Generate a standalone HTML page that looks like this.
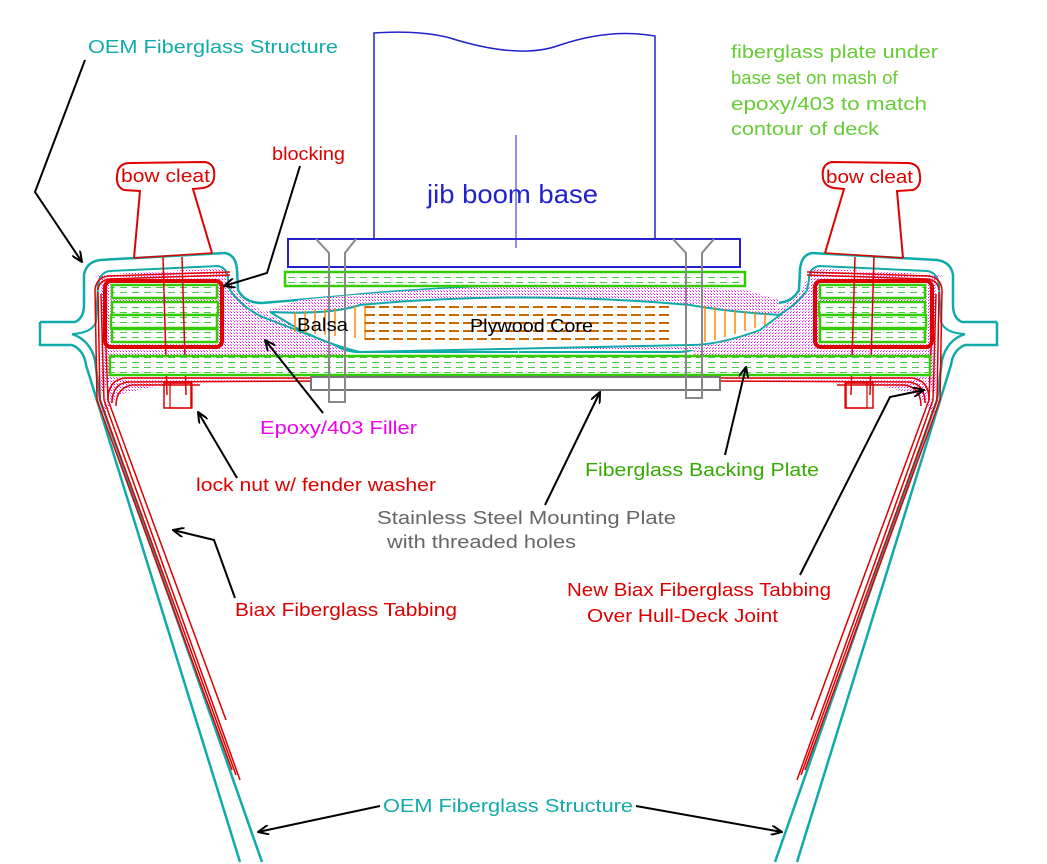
<!DOCTYPE html>
<html><head><meta charset="utf-8"><style>
html,body{margin:0;padding:0;background:#fff;}
svg{display:block}
text{font-family:"Liberation Sans",sans-serif;}
</style></head><body>
<svg width="1047" height="864" viewBox="0 0 1047 864" xmlns="http://www.w3.org/2000/svg">
<defs>
<pattern id="pk" width="3" height="3" patternUnits="userSpaceOnUse"><rect width="3" height="3" fill="#fff"/><rect x="0" y="0" width="1" height="1" fill="#f0f"/><rect x="2" y="2" width="1" height="1" fill="#f6f"/></pattern>
<pattern id="gr" width="12" height="5" patternUnits="userSpaceOnUse"><rect width="12" height="5" fill="#fff"/><rect x="0" y="2" width="7" height="1" fill="#4c4"/></pattern>
<marker id="ah" markerWidth="12" markerHeight="10" refX="11" refY="5" orient="auto" markerUnits="userSpaceOnUse"><path d="M0,0 L11,5 L0,10" fill="none" stroke="#000" stroke-width="2"/></marker>
<g id="half">
  <path d="M95,275 L225,268 L235,290 L262,312 L340,345 L345,356 L112,356 L112,378 L100,395 L100,280 Z" fill="url(#pk)"/>
  <path d="M112,375 L330,378 L160,385 L118,395 L100,420 Z" fill="url(#pk)"/>
  <path d="M40,322 L75,322 Q84,318 84,305 L84,275 Q86,262 100,260 L225,253 Q236,255 237,270 L238,290 Q245,303 262,303 L345,296 Q420,288 518,286" fill="none" stroke="#1aa" stroke-width="2.5"/>
  <path d="M40,322 L40,345 L72,345 Q84,350 86,365 L240,862" fill="none" stroke="#1aa" stroke-width="2.5"/>
  <path d="M72,334 Q92,333 96,322 L98,285 Q100,272 110,271 L218,266 Q228,268 228,280 L230,290 Q240,305 260,316 L335,345 Q345,352 360,352 L518,352" fill="none" stroke="#1aa" stroke-width="2"/>
  <path d="M72,334 Q90,340 95,360 L100,400 L262,862" fill="none" stroke="#1aa" stroke-width="2.5"/>
  <g fill="none" stroke="#d00" stroke-width="1.5">
    <path d="M95,290 Q96,278 108,276 L230,272"/>
    <path d="M98,290 Q99,280 110,279 L230,275"/>
    <path d="M95,290 L97,400 L232,770"/>
    <path d="M98,292 L100,400 L236,775"/>
    <path d="M101,294 L104,400 L240,780"/>
    <path d="M104,296 L108,400 L226,720"/>
    <path d="M108,400 Q108,380 125,378 L330,378"/>
    <path d="M112,403 Q112,384 128,382 L330,381"/>
    <path d="M116,406 Q116,388 132,385 L200,385"/>
  </g>
  <rect x="105" y="281" width="117" height="66" rx="6" fill="none" stroke="#d00" stroke-width="4"/>
  <rect x="112" y="285" width="105" height="13" fill="url(#gr)" stroke="#3c0" stroke-width="2.5"/>
  <rect x="112" y="302" width="106" height="13" fill="url(#gr)" stroke="#3c0" stroke-width="2.5"/>
  <rect x="111" y="315" width="106" height="13" fill="url(#gr)" stroke="#3c0" stroke-width="2.5"/>
  <rect x="112" y="329" width="105" height="13" fill="url(#gr)" stroke="#3c0" stroke-width="2.5"/>
  <path d="M163,257 L167,395 M182,257 L186,395" stroke="#d00" stroke-width="1.5" fill="none"/>
  <rect x="164" y="383" width="27" height="25" fill="none" stroke="#d00" stroke-width="1.5"/>
  <rect x="170" y="383" width="22" height="25" fill="none" stroke="#d00" stroke-width="1.2"/>
  <path d="M134,258 L140,191 L124,190 Q114,186 118,170 Q121,163 130,163 L205,162 Q216,164 214,178 Q213,186 203,188 L193,189 L212,253" fill="none" stroke="#d00" stroke-width="2"/>
  <path d="M134,258 L212,253" stroke="#d00" stroke-width="1.5"/>
</g>
</defs>

<use href="#half"/>
<use href="#half" transform="translate(1037,0) scale(-1,1)"/>

<path d="M262,312 L350,330 L350,350 L700,350 L770,325 L780,300 L745,290 Q600,282 518,286 Q420,288 300,300 Z" fill="url(#pk)"/>
<path d="M270,312 Q330,315 360,305 Q520,290 690,305 Q730,312 780,315 L760,330 Q720,345 690,345 L360,352 Q330,345 300,330 Z" fill="#fff" stroke="#1aa" stroke-width="2"/>
<g stroke="#f80" stroke-width="1.5">
  <path d="M295,312 v20 M305,311 v22 M315,310 v24 M325,309 v26 M335,308 v28 M345,307 v30 M355,306 v32 M365,306 v34 M705,306 v36 M715,307 v33 M725,309 v28 M735,310 v24 M745,311 v20 M755,312 v16 M765,313 v12"/>
</g>
<g stroke="#c60" stroke-width="2" stroke-dasharray="10,4">
  <path d="M365,307 H672 M365,315 H672 M365,323 H672 M365,331 H672 M365,339 H672"/>
</g>
<path d="M374,240 L374,33 Q420,30 450,38 Q520,60 560,45 Q610,28 655,36 L655,240" fill="none" stroke="#22c" stroke-width="1.5"/>
<path d="M516,135 V248" stroke="#22c" stroke-width="1"/>
<rect x="288" y="239" width="452" height="28" fill="none" stroke="#22c" stroke-width="2"/>
<rect x="285" y="272" width="460" height="14" fill="url(#gr)" stroke="#3c0" stroke-width="2.5"/>
<rect x="110" y="356" width="820" height="19" fill="url(#gr)" stroke="#3c0" stroke-width="2.5"/>
<rect x="311" y="377" width="409" height="13" fill="#fff" stroke="#777" stroke-width="2"/>
<g fill="none" stroke="#888" stroke-width="2">
  <path d="M316,239 L329,253 L329,402 L345,402 L345,253 L356,239"/>
  <path d="M673,239 L686,253 L686,398 L702,398 L702,253 L714,239"/>
</g>

<g fill="none" stroke="#000" stroke-width="2">
  <path d="M85,60 L35,192 L82,262" marker-end="url(#ah)"/>
  <path d="M300,166 L267,273 L224,286" marker-end="url(#ah)"/>
  <path d="M323,413 L265,340" marker-end="url(#ah)"/>
  <path d="M237,478 L198,412" marker-end="url(#ah)"/>
  <path d="M235,598 L214,540 L173,530" marker-end="url(#ah)"/>
  <path d="M545,505 L600,392" marker-end="url(#ah)"/>
  <path d="M725,455 L746,367" marker-end="url(#ah)"/>
  <path d="M800,575 L890,397 L924,390" marker-end="url(#ah)"/>
  <path d="M380,806 L258,832" marker-end="url(#ah)"/>
  <path d="M636,806 L782,832" marker-end="url(#ah)"/>
</g>

<g font-size="18">
<text x="88" y="53" fill="#1aa" textLength="250" lengthAdjust="spacingAndGlyphs">OEM Fiberglass Structure</text>
<text x="272" y="160" fill="#d00" textLength="73" lengthAdjust="spacingAndGlyphs">blocking</text>
<text x="121" y="182" fill="#d00" textLength="89" lengthAdjust="spacingAndGlyphs">bow cleat</text>
<text x="826" y="183" fill="#d00" textLength="87" lengthAdjust="spacingAndGlyphs">bow cleat</text>
<text x="427" y="203" fill="#22c" font-size="26" textLength="171" lengthAdjust="spacingAndGlyphs">jib boom base</text>
<text x="731" y="58" fill="#6c3" textLength="207" lengthAdjust="spacingAndGlyphs">fiberglass plate under</text>
<text x="731" y="84" fill="#6c3" font-size="18.5">base set on mash of</text>
<text x="731" y="110" fill="#6c3" textLength="196" lengthAdjust="spacingAndGlyphs">epoxy/403 to match</text>
<text x="731" y="135" fill="#6c3" textLength="148" lengthAdjust="spacingAndGlyphs">contour of deck</text>
<text x="297" y="331" fill="#000" textLength="51" lengthAdjust="spacingAndGlyphs">Balsa</text>
<text x="470" y="332" fill="#000" textLength="123" lengthAdjust="spacingAndGlyphs">Plywood Core</text>
<text x="260" y="434" fill="#e0e" textLength="157" lengthAdjust="spacingAndGlyphs">Epoxy/403 Filler</text>
<text x="196" y="491" fill="#d00" textLength="240" lengthAdjust="spacingAndGlyphs">lock nut w/ fender washer</text>
<text x="585" y="476" fill="#3a0" textLength="234" lengthAdjust="spacingAndGlyphs">Fiberglass Backing Plate</text>
<text x="377" y="524" fill="#666" textLength="299" lengthAdjust="spacingAndGlyphs">Stainless Steel Mounting Plate</text>
<text x="387" y="548" fill="#666" textLength="189" lengthAdjust="spacingAndGlyphs">with threaded holes</text>
<text x="235" y="616" fill="#d00" textLength="222" lengthAdjust="spacingAndGlyphs">Biax Fiberglass Tabbing</text>
<text x="567" y="596" fill="#d00" textLength="264" lengthAdjust="spacingAndGlyphs">New Biax Fiberglass Tabbing</text>
<text x="587" y="622" fill="#d00" textLength="191" lengthAdjust="spacingAndGlyphs">Over Hull-Deck Joint</text>
<text x="383" y="812" fill="#1aa" textLength="250" lengthAdjust="spacingAndGlyphs">OEM Fiberglass Structure</text>
</g>
</svg>
</body></html>
